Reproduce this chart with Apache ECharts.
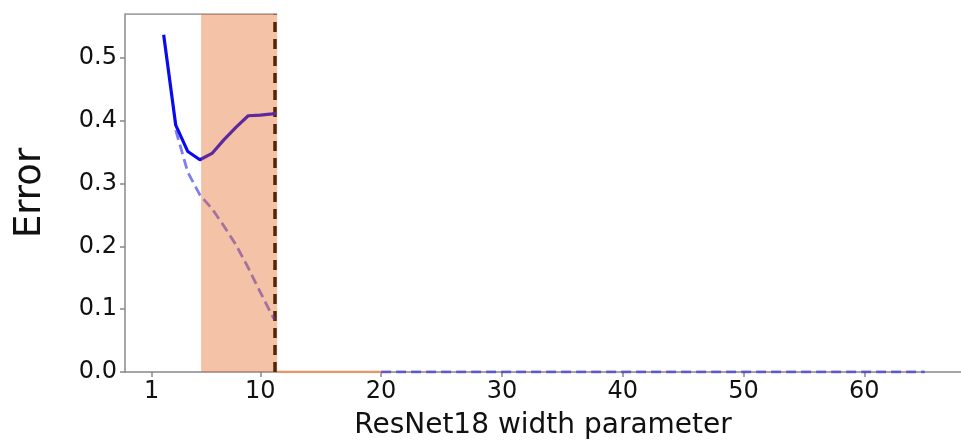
<!DOCTYPE html>
<html>
<head>
<meta charset="utf-8">
<script src="https://cdn.jsdelivr.net/npm/echarts@6/dist/echarts.min.js"></script>
<style>html,body{margin:0;padding:0;background:#fff}#c{width:961px;height:442px}</style>
</head>
<body>
<div id="c"></div>
<script>
// ---- data ----
const testX = [2, 3, 4, 5, 6, 7, 8, 9, 10, 11, 11.3];
const testErr = [0.537, 0.393, 0.351, 0.338, 0.348, 0.370, 0.390, 0.408, 0.409, 0.411, 0.412];
const trainX = [3, 4, 5, 6, 7, 8, 9, 10, 11, 11.2, null, 20, 30, 40, 50, 60, 65];
const trainErr = [0.385, 0.318, 0.282, 0.260, 0.232, 0.202, 0.166, 0.127, 0.089, 0.083, null, 0, 0, 0, 0, 0, 0];
const zeroBandX = [11.4, 20];
const zeroBandY = [0, 0];
const spanStart = 5.1, spanEnd = 11.4;
const thresholdX = 11.2;
const xTicks = [1, 10, 20, 30, 40, 50, 60];
const xMin = -1.2, xMax = 68, yMin = 0, yMax = 0.57;
const topSpineX = [xMin, spanEnd];

const pairs = (xs, ys) => xs.map((x, i) => (x === null ? [null, null] : [x, ys[i]]));

const chart = echarts.init(document.getElementById('c'), null, {renderer: 'canvas'});
const font = 'DejaVu Sans';
chart.setOption({
  animation: false,
  backgroundColor: '#fff',
  grid: {left: 125, right: 0, top: 14, bottom: 70, containLabel: false, outerBoundsMode: 'none'},
  xAxis: {
    type: 'value', min: xMin, max: xMax,
    name: 'ResNet18 width parameter', nameLocation: 'middle', nameGap: 40,
    nameTextStyle: {fontFamily: font, fontSize: 28, color: '#111'},
    axisLine: {show: true, onZero: false, lineStyle: {color: '#888', width: 1.5}},
    axisTick: {show: true, customValues: xTicks, length: 5, lineStyle: {color: '#888', width: 1.5}},
    axisLabel: {customValues: xTicks, fontFamily: font, fontSize: 24, color: '#111', margin: 8},
    splitLine: {show: false}
  },
  yAxis: {
    type: 'value', min: yMin, max: yMax, interval: 0.1,
    name: 'Error', nameLocation: 'middle', nameGap: 76, nameRotate: 90,
    nameTextStyle: {fontFamily: font, fontSize: 37, color: '#111'},
    axisLine: {show: true, onZero: false, lineStyle: {color: '#888', width: 1.5}},
    axisTick: {show: true, length: 5, lineStyle: {color: '#888', width: 1.5}},
    axisLabel: {fontFamily: font, fontSize: 24, color: '#111', margin: 8, showMaxLabel: false,
      formatter: v => v.toFixed(1)},
    splitLine: {show: false}
  },
  series: [
    {
      name: 'topSpine', type: 'line', z: 1, symbol: 'none', silent: true,
      data: topSpineX.map(x => [x, yMax]),
      lineStyle: {color: '#888', width: 1.5}
    },
    {
      name: 'threshold', type: 'line', z: 2, data: [], silent: true,
      markLine: {
        z: 1, symbol: 'none', silent: true, label: {show: false},
        lineStyle: {color: '#000', width: 3.5, type: [10, 7]},
        data: [{xAxis: thresholdX}]
      }
    },
    {
      name: 'test', type: 'line', z: 2, symbol: 'none',
      data: pairs(testX, testErr),
      lineStyle: {color: '#0a0af0', width: 3.2}
    },
    {
      name: 'train', type: 'line', z: 2, symbol: 'none', connectNulls: false,
      data: pairs(trainX, trainErr),
      lineStyle: {color: 'rgba(40,40,230,0.6)', width: 2.8, type: [10, 5]}
    },
    {
      name: 'zeroBand', type: 'line', z: 2, symbol: 'none',
      data: pairs(zeroBandX, zeroBandY),
      lineStyle: {color: '#e6956c', width: 2.5}
    },
    {
      name: 'span', type: 'line', z: 10, data: [], silent: true,
      markArea: {
        z: 10, silent: true,
        itemStyle: {color: 'rgba(225,95,20,0.38)'},
        data: [[{xAxis: spanStart}, {xAxis: spanEnd}]]
      }
    }
  ]
});
</script>
</body>
</html>
